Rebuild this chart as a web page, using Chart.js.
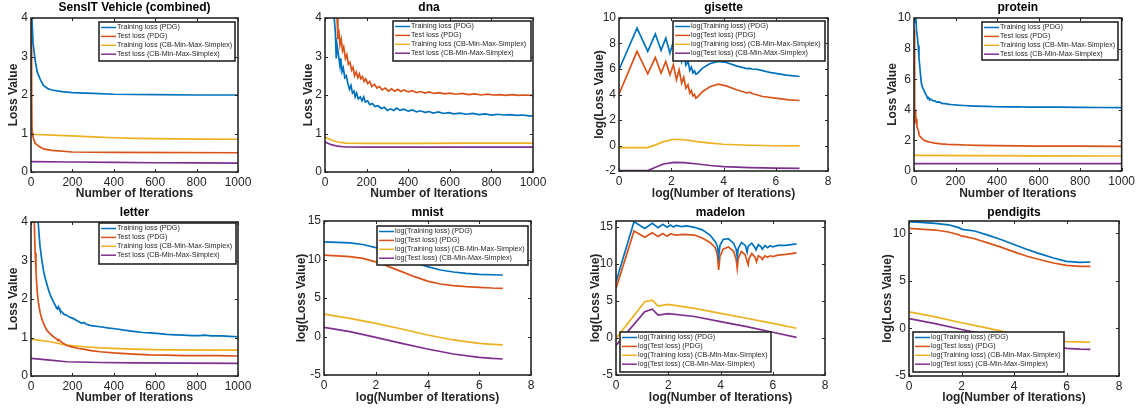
<!DOCTYPE html>
<html>
<head>
<meta charset="utf-8">
<script src="https://cdn.jsdelivr.net/npm/chart.js@4.4.1/dist/chart.umd.min.js"></script>
<style>
  body { margin: 0; background: #fff; width: 1138px; height: 413px; position: relative; overflow: hidden; }
  canvas { position: absolute; }
</style>
</head>
<body>
<script>
// ---- values, [x, y] pairs ----
const sensitTrainPDG = [[0,4.4],[5,3.9],[10,3.35],[20,2.9],[30,2.6],[45,2.4],[60,2.25],[80,2.17],[100,2.13],[150,2.09],[200,2.06],[300,2.04],[400,2.02],[600,2.01],[800,2.0],[1000,2.0]];
const sensitTestPDG = [[0,4.4],[3,2.0],[5,1.1],[10,0.9],[20,0.75],[40,0.66],[60,0.6],[100,0.56],[200,0.52],[400,0.51],[1000,0.5]];
const sensitTrainCB = [[0,0.98],[100,0.96],[200,0.94],[300,0.91],[400,0.89],[500,0.875],[600,0.865],[800,0.855],[1000,0.85]];
const sensitTestCB = [[0,0.27],[200,0.26],[400,0.25],[600,0.24],[800,0.235],[1000,0.23]];

const dnaTrainPDG = [[40,4.3],[50,3.6],[54,2.95],[58,3.3],[66,3.0],[72,2.75],[76,2.95],[82,2.6],[88,2.7],[95,2.45],[102,2.5],[110,2.3],[118,2.15],[125,2.25],[132,2.05],[140,2.1],[145,1.95],[152,2.05],[160,1.9],[170,1.95],[178,1.85],[186,1.95],[194,1.82],[205,1.85],[215,1.75],[228,1.78],[240,1.7],[255,1.72],[270,1.65],[285,1.68],[300,1.6],[315,1.64],[330,1.6],[345,1.66],[360,1.6],[380,1.63],[400,1.58],[420,1.61],[440,1.56],[460,1.59],[480,1.55],[500,1.57],[520,1.53],[545,1.56],[570,1.52],[595,1.54],[620,1.51],[650,1.53],[680,1.5],[710,1.52],[740,1.49],[770,1.51],[800,1.48],[830,1.5],[860,1.48],[890,1.49],[920,1.47],[950,1.48],[980,1.46],[1000,1.46]];
const dnaTestPDG = [[50,4.3],[58,4.0],[62,3.45],[66,3.7],[72,3.3],[78,3.45],[84,3.15],[90,3.25],[98,2.95],[105,3.05],[112,2.8],[120,2.85],[128,2.65],[135,2.72],[142,2.5],[150,2.6],[158,2.45],[165,2.55],[172,2.42],[180,2.48],[188,2.35],[196,2.42],[205,2.3],[215,2.35],[225,2.22],[238,2.28],[250,2.18],[262,2.22],[275,2.13],[290,2.18],[305,2.1],[320,2.16],[335,2.1],[350,2.15],[365,2.09],[380,2.13],[400,2.08],[420,2.11],[440,2.06],[460,2.09],[480,2.05],[500,2.08],[525,2.04],[550,2.06],[575,2.03],[600,2.05],[630,2.02],[660,2.04],[690,2.01],[720,2.03],[750,2.0],[780,2.02],[810,2.0],[840,2.01],[870,1.99],[900,2.01],[930,1.99],[960,2.0],[1000,1.99]];
const dnaTrainCB = [[0,0.91],[30,0.83],[60,0.78],[100,0.75],[200,0.745],[400,0.745],[700,0.75],[1000,0.75]];
const dnaTestCB = [[0,0.78],[30,0.71],[60,0.67],[100,0.65],[200,0.645],[500,0.645],[1000,0.645]];

const gisetteTrainPDG = [[0,5.94],[0.69,9.2],[1.1,7.38],[1.39,8.74],[1.61,7.46],[1.79,8.42],[1.95,7.25],[2.08,8.15],[2.2,6.95],[2.3,7.7],[2.4,6.6],[2.48,7.2],[2.56,6.3],[2.64,6.6],[2.71,5.9],[2.77,6.15],[2.83,5.7],[2.89,5.85],[2.94,5.6],[3.0,5.65],[3.2,6.07],[3.47,6.41],[3.79,6.59],[4.11,6.51],[4.49,6.25],[4.9,6.03],[5.0,6.05],[5.1,6.0],[5.3,5.97],[5.77,5.73],[6.4,5.52],[6.91,5.41]];
const gisetteTestPDG = [[0,4.03],[0.69,7.38],[1.1,5.62],[1.39,6.9],[1.61,5.68],[1.79,6.59],[1.95,5.55],[2.08,6.33],[2.2,5.15],[2.3,5.94],[2.4,4.89],[2.48,5.36],[2.56,4.5],[2.64,4.76],[2.71,4.1],[2.77,4.31],[2.83,3.9],[2.89,4.0],[2.94,3.71],[3.0,3.8],[3.2,4.24],[3.5,4.63],[3.8,4.81],[4.1,4.68],[4.5,4.37],[4.9,4.12],[5.0,4.18],[5.1,4.08],[5.5,3.84],[6.0,3.71],[6.5,3.58],[6.91,3.53]];
const gisetteTrainCB = [[0,-0.17],[1.1,-0.17],[1.4,0.05],[1.7,0.3],[2.1,0.49],[2.5,0.45],[3.0,0.3],[3.5,0.18],[4.0,0.1],[5.0,0.02],[6.0,-0.02],[6.91,-0.03]];
const gisetteTestCB = [[0,-1.97],[1.1,-1.97],[1.4,-1.7],[1.7,-1.45],[2.1,-1.32],[2.5,-1.35],[3.0,-1.45],[3.5,-1.57],[4.0,-1.66],[5.0,-1.74],[6.0,-1.78],[6.91,-1.79]];

const proteinTrainPDG = [[0,9.8],[3,10.3],[6,9.7],[9,10.1],[12,9.2],[16,8.8],[20,8.2],[24,7.4],[28,6.8],[32,6.2],[36,5.7],[40,5.5],[45,5.35],[50,5.2],[55,5.05],[60,4.95],[65,4.75],[70,4.8],[75,4.65],[80,4.7],[90,4.6],[100,4.58],[110,4.5],[120,4.52],[135,4.42],[150,4.4],[170,4.35],[190,4.33],[210,4.3],[240,4.28],[270,4.26],[300,4.24],[350,4.22],[400,4.2],[450,4.19],[500,4.2],[550,4.18],[600,4.17],[700,4.17],[800,4.16],[900,4.15],[1000,4.14]];
const proteinTestPDG = [[0,9.2],[2,6.0],[4,3.1],[6,4.0],[8,3.2],[10,3.4],[14,2.9],[18,2.75],[22,2.6],[26,2.3],[30,2.25],[40,2.1],[50,2.0],[60,1.95],[70,1.9],[80,1.88],[100,1.82],[130,1.77],[160,1.74],[200,1.72],[250,1.7],[300,1.68],[400,1.66],[500,1.64],[600,1.63],[800,1.62],[1000,1.61]];
const proteinTrainCB = [[0,1.02],[300,1.0],[600,0.99],[1000,0.98]];
const proteinTestCB = [[0,0.48],[500,0.48],[1000,0.48]];

const letterTrainPDG = [[30,4.3],[35,3.96],[43,3.4],[50,3.1],[60,2.75],[68,2.55],[76,2.4],[84,2.25],[92,2.12],[100,2.02],[108,1.93],[116,1.85],[124,1.76],[128,1.74],[132,1.8],[136,1.76],[140,1.7],[150,1.66],[160,1.6],[172,1.58],[185,1.53],[205,1.49],[225,1.43],[245,1.37],[255,1.39],[265,1.35],[290,1.31],[333,1.28],[370,1.25],[414,1.22],[450,1.19],[494,1.16],[540,1.13],[575,1.12],[620,1.1],[655,1.08],[700,1.07],[736,1.06],[780,1.05],[816,1.05],[840,1.06],[870,1.04],[920,1.04],[960,1.03],[1000,1.02]];
const letterTestPDG = [[10,4.3],[16,3.96],[20,3.2],[24,2.7],[30,2.2],[35,1.93],[44,1.65],[52,1.49],[64,1.32],[76,1.19],[92,1.1],[108,1.02],[124,0.96],[130,0.92],[134,0.95],[140,0.91],[156,0.85],[172,0.8],[200,0.75],[225,0.72],[253,0.7],[290,0.66],[333,0.63],[400,0.6],[494,0.57],[575,0.55],[655,0.54],[736,0.53],[816,0.53],[900,0.53],[1000,0.52]];
const letterTrainCB = [[0,0.96],[92,0.89],[172,0.8],[253,0.76],[333,0.73],[494,0.7],[655,0.68],[1000,0.67]];
const letterTestCB = [[0,0.46],[92,0.41],[172,0.37],[333,0.35],[494,0.34],[1000,0.33]];

const mnistTrainPDG = [[0,12.3],[1,12.15],[1.5,11.95],[2,11.55],[2.5,11.0],[3,10.3],[3.5,9.6],[4,9.07],[4.5,8.64],[5,8.38],[5.5,8.2],[6,8.08],[6.5,8.02],[6.91,7.99]];
const mnistTestPDG = [[0,10.58],[1,10.37],[1.5,10.15],[2,9.7],[2.5,9.07],[3,8.42],[3.5,7.77],[4,7.2],[4.5,6.82],[5,6.6],[5.5,6.47],[6,6.39],[6.5,6.3],[6.91,6.26]];
const mnistTrainCB = [[0,2.92],[1,2.36],[2,1.71],[3,0.97],[4,0.19],[5,-0.45],[6,-0.89],[6.5,-1.02],[6.91,-1.1]];
const mnistTestCB = [[0,1.19],[1,0.63],[2,-0.11],[3,-0.89],[4,-1.62],[5,-2.27],[6,-2.71],[6.5,-2.85],[6.91,-2.92]];

const madelonTrainPDG = [[0,7.6],[0.69,15.7],[1.1,14.8],[1.39,15.5],[1.61,14.9],[1.79,15.35],[1.95,14.95],[2.08,15.25],[2.2,15.0],[2.3,15.2],[2.5,15.05],[2.7,15.15],[3.0,14.95],[3.3,14.6],[3.6,13.9],[3.8,13.0],[3.88,12.4],[3.93,11.0],[3.98,12.5],[4.1,13.3],[4.3,13.4],[4.5,12.8],[4.6,12.0],[4.64,11.0],[4.68,12.1],[4.8,12.9],[4.95,12.5],[5.02,11.6],[5.06,12.4],[5.2,12.8],[5.32,12.2],[5.36,11.9],[5.45,12.6],[5.55,12.3],[5.6,12.0],[5.7,12.5],[5.8,12.2],[5.9,12.45],[6.0,12.3],[6.2,12.5],[6.5,12.5],[6.91,12.7]];
const madelonTestPDG = [[0,6.7],[0.69,14.46],[1.1,13.6],[1.39,14.2],[1.61,13.7],[1.79,14.1],[1.95,13.75],[2.08,14.05],[2.3,13.9],[2.6,14.0],[3.0,13.9],[3.3,13.5],[3.6,12.9],[3.8,12.2],[3.88,11.2],[3.93,9.2],[3.98,11.0],[4.1,12.0],[4.3,12.3],[4.5,11.7],[4.6,10.6],[4.64,9.4],[4.68,10.8],[4.8,11.7],[4.95,11.2],[5.02,10.3],[5.06,9.9],[5.1,10.8],[5.2,11.4],[5.32,10.9],[5.38,10.3],[5.45,11.1],[5.55,10.9],[5.6,10.6],[5.7,11.1],[5.8,10.9],[5.9,11.1],[6.0,11.0],[6.2,11.2],[6.5,11.3],[6.91,11.5]];
const madelonTrainCB = [[0,-0.05],[1.1,4.9],[1.39,5.1],[1.61,4.3],[2.0,4.55],[3.0,4.0],[4.0,3.33],[5.0,2.66],[6.0,1.98],[6.91,1.31]];
const madelonTestCB = [[0,-1.0],[1.1,3.56],[1.39,3.9],[1.61,3.1],[2.0,3.3],[3.0,2.9],[4.0,2.2],[5.0,1.53],[6.0,0.77],[6.91,0.09]];

const pendigitsTrainPDG = [[0,11.24],[1,11.06],[1.5,10.9],[1.9,10.6],[2.0,10.45],[2.1,10.4],[2.5,10.25],[3,9.82],[3.5,9.36],[4,8.83],[4.5,8.3],[5,7.84],[5.5,7.41],[6,7.06],[6.5,6.95],[6.91,6.99]];
const pendigitsTestPDG = [[0,10.53],[1,10.35],[1.5,10.14],[1.9,9.85],[2.0,9.7],[2.1,9.68],[2.5,9.43],[3,9.0],[3.5,8.55],[4,8.05],[4.5,7.59],[5,7.23],[5.5,6.88],[6,6.63],[6.5,6.52],[6.91,6.52]];
const pendigitsTrainCB = [[0,1.74],[1,1.21],[2,0.6],[3,0.04],[4,-0.57],[5,-1.1],[6,-1.38],[6.5,-1.42],[6.91,-1.45]];
const pendigitsTestCB = [[0,1.03],[1,0.5],[2,-0.11],[3,-0.67],[4,-1.25],[5,-1.7],[6,-2.09],[6.5,-2.17],[6.91,-2.2]];

const lossLabels = ['Training loss (PDG)', 'Test loss (PDG)', 'Training loss (CB-Min-Max-Simplex)', 'Test loss (CB-Min-Max-Simplex)'];
const logLossLabels = ['log(Training loss) (PDG)', 'log(Test loss) (PDG)', 'log(Training loss) (CB-Min-Max-Simplex)', 'log(Test loss) (CB-Min-Max-Simplex)'];
const colors = ['#0072BD', '#D95319', '#EDB120', '#7E2F8E'];

// canvas: [left, top, right, bottom], plot: [left, top, right, bottom], legend: [dx, dy, w, h] from plot corner
const panels = [
  {title: 'SensIT Vehicle (combined)', log: false, series: [sensitTrainPDG, sensitTestPDG, sensitTrainCB, sensitTestCB], y: [0, 4, 1], canvas: [0, 0, 285, 205], plot: [31, 18, 238, 172], yPad: 6, legend: [68, 4, 136, 39]},
  {title: 'dna', log: false, series: [dnaTrainPDG, dnaTestPDG, dnaTrainCB, dnaTestCB], y: [0, 4, 1], canvas: [285, 0, 570, 205], plot: [325, 18, 533, 172], yPad: 16, legend: [68, 3, 138, 40]},
  {title: 'gisette', log: true, series: [gisetteTrainPDG, gisetteTestPDG, gisetteTrainCB, gisetteTestCB], y: [-2, 10, 2], canvas: [570, 0, 850, 205], plot: [619, 18, 828, 171], yPad: 22, legend: [54, 3, 152, 40]},
  {title: 'protein', log: false, series: [proteinTrainPDG, proteinTestPDG, proteinTrainCB, proteinTestCB], y: [0, 10, 2], canvas: [850, 0, 1138, 205], plot: [914, 18, 1123, 171], yPad: 35, legend: [68, 4, 136, 38]},
  {title: 'letter', log: false, series: [letterTrainPDG, letterTestPDG, letterTrainCB, letterTestCB], y: [0, 4, 1], canvas: [0, 205, 285, 413], plot: [31, 222, 238, 376], yPad: 6, legend: [68, 1, 137, 41]},
  {title: 'mnist', log: true, series: [mnistTrainPDG, mnistTestPDG, mnistTrainCB, mnistTestCB], y: [-5, 15, 5], canvas: [285, 205, 570, 413], plot: [324, 221, 531, 375], yPad: 9, legend: [53, 5, 151, 39]},
  {title: 'madelon', log: true, series: [madelonTrainPDG, madelonTestPDG, madelonTrainCB, madelonTestCB], y: [-5, 15.8, 5], canvas: [570, 205, 850, 413], plot: [616, 221, 825, 375], yPad: 18, legend: [4, 111, 151, 40]},
  {title: 'pendigits', log: true, series: [pendigitsTrainPDG, pendigitsTestPDG, pendigitsTrainCB, pendigitsTestCB], y: [-5, 11.3, 5], canvas: [850, 205, 1138, 413], plot: [909, 221, 1119, 376], yPad: 30, legend: [4, 111, 151, 40]},
];

const FONT = '"Liberation Sans", Arial, Helvetica, sans-serif';
const INK = '#262626';

// MATLAB-like box, inward ticks and boxed legend
const matlabBox = {
  id: 'matlabBox',
  afterDraw(chart, args, opts) {
    const {ctx, chartArea: a, scales: {x, y}} = chart;
    ctx.save();
    ctx.strokeStyle = INK;
    ctx.lineWidth = 1;
    ctx.beginPath();
    x.ticks.forEach(t => {
      const p = Math.round(x.getPixelForValue(t.value)) + 0.5;
      ctx.moveTo(p, a.bottom); ctx.lineTo(p, a.bottom - 3);
      ctx.moveTo(p, a.top); ctx.lineTo(p, a.top + 3);
    });
    y.ticks.forEach(t => {
      const p = Math.round(y.getPixelForValue(t.value)) + 0.5;
      ctx.moveTo(a.left, p); ctx.lineTo(a.left + 3, p);
      ctx.moveTo(a.right, p); ctx.lineTo(a.right - 3, p);
    });
    ctx.stroke();
    ctx.lineWidth = 1.6;
    ctx.strokeRect(a.left, a.top, a.right - a.left, a.bottom - a.top);

    const [dx, dy, w, h] = opts.box;
    const lx = a.left + dx, ly = a.top + dy;
    ctx.fillStyle = '#fff';
    ctx.fillRect(lx, ly, w, h);
    ctx.strokeRect(lx, ly, w, h);
    ctx.font = '7.2px ' + FONT;
    ctx.textBaseline = 'middle';
    ctx.textAlign = 'left';
    chart.data.datasets.forEach((ds, i) => {
      const cy = ly + 5.5 + i * 8.9;
      ctx.strokeStyle = ds.borderColor;
      ctx.lineWidth = 1.5;
      ctx.beginPath();
      ctx.moveTo(lx + 2, cy);
      ctx.lineTo(lx + 17, cy);
      ctx.stroke();
      ctx.fillStyle = INK;
      ctx.fillText(ds.label, lx + 18, cy);
    });
    ctx.restore();
  }
};

panels.forEach(p => {
  const [cl, ct, cr, cb] = p.canvas;
  const [pl, pt, pr, pb] = p.plot;
  const canvas = document.createElement('canvas');
  canvas.width = cr - cl;
  canvas.height = cb - ct;
  canvas.style.left = cl + 'px';
  canvas.style.top = ct + 'px';
  document.body.appendChild(canvas);

  const labels = p.log ? logLossLabels : lossLabels;
  const titleTop = 2;

  new Chart(canvas, {
    type: 'line',
    data: {
      datasets: p.series.map((s, i) => ({
        label: labels[i],
        data: s.map(([x, y]) => ({x, y})),
        borderColor: colors[i],
        backgroundColor: colors[i],
        borderWidth: 1.7,
        pointRadius: 0,
        tension: 0,
        fill: false
      }))
    },
    options: {
      responsive: false,
      animation: false,
      layout: {padding: {left: 0, top: 0, right: cr - pr, bottom: 0}},
      scales: {
        x: {
          type: 'linear',
          min: 0,
          max: p.log ? 8 : 1000,
          grid: {display: false, drawTicks: false},
          border: {display: false},
          ticks: {stepSize: p.log ? 2 : 200, padding: 3, color: INK, font: {family: FONT, size: 12}, maxRotation: 0,
                  callback: v => String(v)},
          title: {display: true, text: p.log ? 'log(Number of Iterations)' : 'Number of Iterations', color: INK,
                  font: {family: FONT, size: 12, weight: 'bold'}, padding: {top: 0, bottom: ct === 0 ? 4 : 8}},
          afterFit: s => { s.height = cb - pb; }
        },
        y: {
          type: 'linear',
          min: p.y[0],
          max: p.y[1],
          grid: {display: false, drawTicks: false},
          border: {display: false},
          ticks: {stepSize: p.y[2], includeBounds: false, padding: 3, color: INK, font: {family: FONT, size: 12},
                  callback: v => String(v)},
          title: {display: true, text: p.log ? 'log(Loss Value)' : 'Loss Value', color: INK,
                  font: {family: FONT, size: 12, weight: 'bold'}, padding: {top: p.yPad, bottom: 0}},
          afterFit: s => { s.width = pl - cl; }
        }
      },
      plugins: {
        legend: {display: false},
        tooltip: {enabled: false},
        title: {
          display: true,
          text: p.title,
          fullSize: false,
          color: '#000',
          font: {family: FONT, size: 12, weight: 'bold', lineHeight: 1},
          padding: {top: titleTop, bottom: (pt - ct) - 12 - titleTop}
        },
        matlabBox: {box: p.legend}
      }
    },
    plugins: [matlabBox]
  });
});
</script>
</body>
</html>
